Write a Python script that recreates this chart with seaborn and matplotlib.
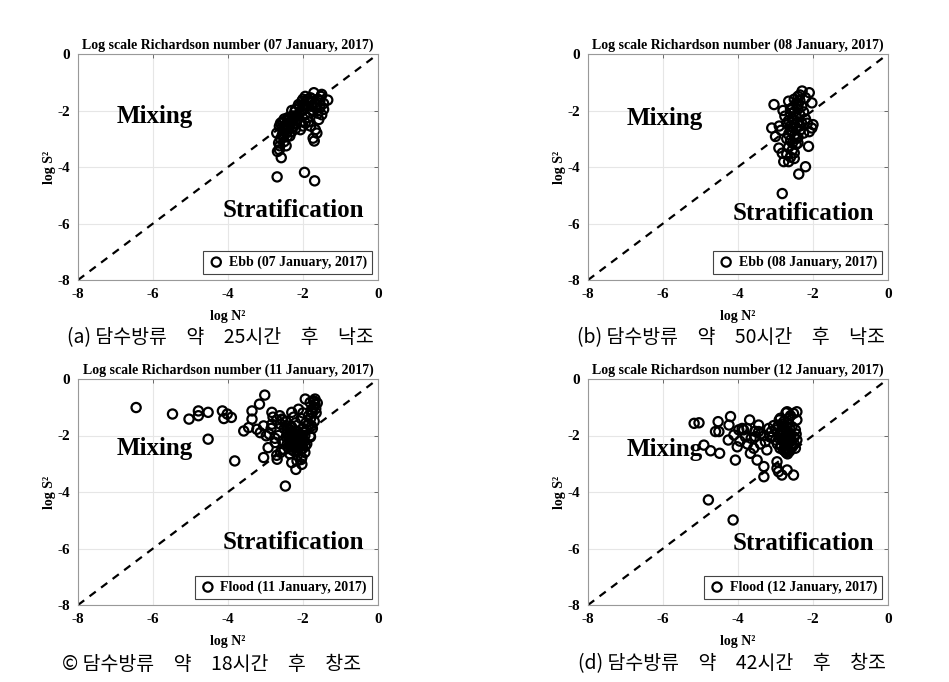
import numpy as np
import pandas as pd
import seaborn as sns
import matplotlib.pyplot as plt

# ---------------- data (log N^2, log S^2) ----------------
a_n2 = [-1.71, -1.94, -1.50, -1.34, -2.03, -1.80, -1.60, -1.45, -1.55, -1.45, -1.70, -1.85,
        -2.12, -2.20, -1.90, -1.75, -1.60, -1.58, -1.50, -2.00, -2.10, -1.95, -1.81, -2.25,
        -2.29, -2.35, -2.15, -1.94, -2.05, -2.36, -2.45, -2.25, -2.16, -2.40, -2.50, -2.63,
        -2.51, -2.42, -2.55, -2.60, -2.65, -2.63, -2.58, -2.50, -2.45, -2.07, -2.00, -1.67,
        -1.73, -1.70, -1.63, -1.80, -1.85, -2.30, -2.20, -2.35, -2.70, -2.55, -2.40, -2.30,
        -2.10, -1.65, -1.55, -1.75, -2.00, -1.88, -2.50, -2.60, -2.45, -2.62, -2.68,
        -2.05, -1.98, -2.22, -2.32, -2.18, -2.42, -2.48, -2.38, -2.28, -2.12, -1.88, -1.78,
        -1.62, -1.52, -2.56, -2.52, -2.34, -2.26,
        -2.69, -1.96, -1.69]
a_s2 = [-1.37, -1.50, -1.43, -1.63, -1.67, -1.55, -1.60, -1.75, -1.90, -1.96, -1.75, -1.70,
        -1.79, -1.96, -1.85, -2.00, -2.10, -2.32, -2.15, -1.95, -2.10, -2.15, -2.08, -2.20,
        -2.20, -2.30, -2.30, -2.44, -2.40, -2.44, -2.50, -2.56, -2.32, -2.60, -2.70, -2.56,
        -2.68, -2.92, -2.85, -3.00, -3.15, -3.39, -3.67, -3.10, -3.25, -2.68, -2.55, -2.68,
        -2.98, -3.08, -2.80, -2.55, -2.40, -2.75, -2.65, -2.90, -2.80, -2.40, -2.25, -2.00,
        -1.85, -1.90, -1.65, -1.60, -1.60, -1.60, -2.30, -2.45, -2.80, -3.25, -3.45,
        -2.00, -1.80, -2.05, -2.40, -2.45, -2.35, -2.55, -2.65, -2.60, -2.20, -2.25, -1.85,
        -1.80, -1.50, -2.60, -2.95, -2.50, -2.35,
        -4.35, -4.19, -4.49]

b_n2 = [-2.29, -2.10, -2.40, -2.20, -2.03, -2.35, -2.45, -2.65, -3.04, -2.55, -2.40, -2.30,
        -2.50, -2.60, -2.45, -2.35, -2.25, -2.55, -2.65, -2.40, -2.30, -2.20, -2.50, -2.60,
        -2.70, -2.45, -2.35, -2.55, -2.65, -2.50, -2.40, -2.60, -2.70, -2.55, -2.45, -2.65,
        -2.55, -2.70, -2.60, -2.50, -2.78, -2.65, -2.82, -2.91, -3.00, -3.10, -2.85, -2.90,
        -2.40, -2.12, -2.20, -2.38, -2.82, -2.03, -2.10, -2.15, -2.00, -2.25, -2.75, -2.80,
        -2.35, -2.50, -2.60, -2.50, -2.45, -2.35, -2.60, -2.40, -2.55]
b_s2 = [-1.31, -1.37, -1.50, -1.55, -1.73, -1.65, -1.75, -1.67, -1.79, -1.90, -1.95, -1.85,
        -2.05, -2.10, -2.20, -2.15, -2.05, -2.30, -2.35, -2.40, -2.45, -2.30, -2.50, -2.55,
        -2.45, -2.60, -2.70, -2.75, -2.85, -2.90, -2.95, -3.05, -3.00, -3.15, -3.20, -3.30,
        -3.40, -3.55, -3.65, -3.70, -3.81, -3.81, -3.51, -3.33, -2.92, -2.62, -2.70, -2.55,
        -3.15, -3.27, -3.99, -4.25, -4.94, -2.62, -2.75, -2.45, -2.50, -2.80, -2.20, -2.00,
        -1.45, -1.60, -2.70, -3.50, -3.00, -2.55, -1.95, -1.80, -2.60]

c_n2 = [-6.45, -5.48, -5.04, -4.79, -4.79, -4.53, -4.53, -4.15, -4.02, -4.11, -3.91, -3.82,
        -3.58, -3.45, -3.36, -3.36, -3.23, -3.14, -3.16, -3.02, -3.05, -2.98, -2.93, -3.05,
        -2.83, -2.83, -2.74, -2.69, -2.56, -2.56, -2.43, -2.30, -2.47, -2.16, -2.03, -2.03,
        -2.19, -2.12, -1.94, -2.30, -2.12, -1.94, -1.81, -1.72, -1.68, -1.77, -1.77, -1.81,
        -2.40, -2.30, -2.20, -2.10, -2.00, -2.35, -2.25, -2.15, -2.05, -2.45, -2.50, -2.60,
        -2.70, -2.80, -2.55, -2.40, -2.30, -2.15, -2.00, -1.95, -1.90, -1.85, -1.80, -1.75,
        -1.72, -1.68, -1.78, -1.85, -1.92, -2.00, -2.10, -2.20, -2.30, -2.20, -2.05, -2.00,
        -1.65, -1.70, -1.75, -1.80, -1.90, -1.95, -2.05, -2.60, -2.70, -2.50, -2.90, -2.65,
        -2.75, -2.85, -2.25, -2.45, -2.62, -2.55, -1.62, -1.70, -1.66, -2.15, -2.35,
        -2.35, -2.28, -2.18, -2.08, -1.98, -2.42, -2.32, -2.22, -2.12, -2.02, -2.38, -2.26,
        -2.16, -2.06, -1.96, -2.44, -2.34, -2.24, -2.14, -2.04]
c_s2 = [-1.01, -1.24, -1.42, -1.13, -1.30, -1.18, -2.13, -1.13, -1.24, -1.40, -1.36, -2.90,
        -1.84, -1.72, -1.13, -1.42, -1.78, -1.90, -0.89, -0.57, -1.66, -2.01, -2.43, -2.78,
        -1.60, -1.18, -2.25, -2.84, -1.42, -2.49, -1.78, -2.96, -3.79, -2.90, -2.78, -3.02,
        -3.20, -2.31, -2.37, -1.18, -1.07, -0.71, -0.83, -0.77, -0.71, -1.18, -1.66, -2.01,
        -1.90, -2.00, -2.10, -2.20, -2.15, -2.20, -2.30, -2.35, -2.30, -2.05, -1.75, -1.60,
        -1.45, -1.35, -2.20, -2.40, -2.50, -2.55, -2.45, -2.00, -1.80, -1.60, -1.40, -1.20,
        -1.00, -0.90, -1.10, -1.30, -1.55, -1.75, -1.95, -1.85, -1.70, -1.55, -1.40, -1.20,
        -1.20, -1.50, -1.75, -2.05, -2.30, -2.60, -2.85, -2.60, -2.70, -2.50, -1.95, -2.00,
        -2.10, -1.75, -1.35, -1.50, -1.30, -1.45, -0.85, -0.80, -1.05, -2.70, -2.65,
        -1.80, -1.90, -1.95, -2.05, -1.90, -2.30, -2.40, -2.45, -2.40, -2.35, -2.10, -2.15,
        -2.25, -2.50, -2.20, -1.65, -1.70, -2.55, -1.85, -2.00]

d_n2 = [-5.17, -5.04, -4.91, -4.73, -4.49, -4.53, -4.60, -4.51, -4.79, -4.13, -4.20, -4.24,
        -4.26, -4.11, -4.07, -4.02, -3.98, -3.89, -3.76, -3.69, -3.67, -3.58, -3.54, -3.45,
        -3.45, -3.49, -3.31, -3.31, -3.27, -3.23, -3.18, -3.11, -3.00, -2.96, -2.96, -2.92,
        -2.83, -2.69, -2.52, -2.92, -2.87, -2.78, -2.69, -2.52, -2.43, -2.43, -2.56, -2.47,
        -2.43, -2.47, -2.56, -2.83, -2.74, -2.74, -2.65, -2.79, -2.61, -2.65, -3.00, -3.09,
        -2.80, -2.75, -2.70, -2.75, -2.80, -2.70, -2.85, -2.65, -2.60, -2.72, -2.85, -2.90,
        -2.60, -2.55, -2.78, -2.68, -2.50, -2.45, -2.90, -3.05, -3.15, -3.30, -3.40, -3.55,
        -3.65, -3.80, -3.95, -3.85, -3.75, -3.40, -2.95, -2.62, -2.50,
        -2.78, -2.72, -2.66, -2.82, -2.76, -2.70, -2.64, -2.80, -2.74, -2.68, -2.86, -2.62,
        -2.58, -2.88, -2.72]
d_s2 = [-1.57, -1.55, -2.34, -2.54, -2.63, -1.51, -1.86, -1.86, -4.28, -4.99, -1.33, -1.63,
        -2.16, -1.98, -2.87, -2.40, -1.80, -1.75, -1.75, -1.45, -2.63, -2.45, -2.04, -1.63,
        -1.86, -2.87, -3.10, -3.46, -2.22, -2.51, -1.75, -1.86, -2.16, -2.93, -3.16, -3.28,
        -3.40, -3.22, -3.40, -1.63, -1.39, -1.51, -1.16, -1.22, -1.16, -1.45, -1.69, -1.80,
        -2.16, -2.45, -2.28, -1.92, -2.10, -2.45, -2.57, -2.51, -1.92, -2.16, -1.80, -2.04,
        -1.60, -1.75, -1.90, -2.05, -2.20, -2.30, -2.35, -1.40, -1.30, -1.20, -1.85, -2.10,
        -2.05, -2.40, -2.50, -2.65, -2.05, -1.95, -1.45, -1.65, -2.05, -2.00, -1.95, -1.85,
        -2.10, -2.05, -2.20, -1.80, -2.30, -2.30, -2.30, -2.55, -2.30,
        -1.70, -1.85, -2.00, -2.15, -2.25, -2.45, -2.20, -1.95, -2.35, -1.55, -2.00, -1.75,
        -2.20, -2.45, -2.60]

dates = ["07 January, 2017", "08 January, 2017", "11 January, 2017", "12 January, 2017"]
tides = ["Ebb", "Ebb", "Flood", "Flood"]
captions = ["(a) 담수방류\u3000약\u300025시간\u3000후\u3000낙조",
            "(b) 담수방류\u3000약\u300050시간\u3000후\u3000낙조",
            "© 담수방류\u3000약\u300018시간\u3000후\u3000창조",
            "(d) 담수방류\u3000약\u300042시간\u3000후\u3000창조"]
ticks = [-8, -6, -4, -2, 0]

# ---------------- style ----------------
sns.set_theme(style="white")
plt.rcParams['font.family'] = ['Liberation Serif', 'DejaVu Serif']
plt.rcParams['font.weight'] = 'bold'
plt.rcParams['text.color'] = 'black'
plt.rcParams['axes.labelcolor'] = 'black'
plt.rcParams['xtick.color'] = 'black'
plt.rcParams['ytick.color'] = 'black'
plt.rcParams['axes.titlecolor'] = 'black'

fig = plt.figure(figsize=(9.49, 6.82), dpi=100)
W, H = 949.0, 682.0

panels = [
    (a_n2, a_s2, 78, 54, 280, -2.2, -5.55, 220, 338),
    (b_n2, b_s2, 588, 54, 280, -2.3, -5.65, 731, 338),
    (c_n2, c_s2, 78, 379, 605, -2.45, -5.78, 212, 664),
    (d_n2, d_s2, 588, 379, 605, -2.5, -5.82, 732, 664),
]

for i, (xs, ys, left, top, bottom, mix_y, str_y, cap_x, cap_y) in enumerate(panels):
    ax = fig.add_axes([left / W, 1 - bottom / H, 300 / W, (bottom - top) / H])
    df = pd.DataFrame({"logN2": xs, "logS2": ys})
    ax.plot([-8, 0], [-8, 0], ls=(0, (3.5, 3.0)), color='black', lw=1.6, zorder=1)
    sns.scatterplot(data=df, x="logN2", y="logS2", ax=ax, marker='o', s=44,
                    facecolors='none', edgecolor='black', linewidth=1.6,
                    label=f"{tides[i]} ({dates[i]})", zorder=3)
    ax.set_xlim(-8, 0)
    ax.set_ylim(-8, 0)
    ax.set_xticks(ticks)
    ax.set_yticks(ticks)
    ax.set_xticklabels([str(t) for t in ticks], fontsize=11, fontweight='bold')
    ax.set_yticklabels([str(t) for t in ticks], fontsize=11, fontweight='bold')
    ax.tick_params(direction='in', length=3, width=0.6, color='#555555',
                   top=True, right=True, pad=6)
    ax.grid(True, color='#e6e6e6', lw=0.8)
    for sp in ax.spines.values():
        sp.set_color('#999999')
        sp.set_linewidth(0.8)
    ax.set_title(f"Log scale Richardson number ({dates[i]})", fontsize=10,
                 fontweight='bold', pad=4)
    ax.set_xlabel("log N²", fontsize=10, fontweight='bold', labelpad=6)
    ax.set_ylabel("log S²", fontsize=10, fontweight='bold', labelpad=1)
    ax.text(-6.98, mix_y, "Mixing", fontsize=18, fontweight='bold', va='center',
            ha='left', zorder=2, color='black')
    ax.text(-4.15, str_y, "Stratification", fontsize=18, fontweight='bold',
            va='center', ha='left', zorder=2, color='black')
    leg = ax.legend(loc='lower right', fancybox=False, framealpha=1,
                    edgecolor='#444444', borderpad=0.35, handletextpad=0.3,
                    handlelength=1.2, borderaxespad=0.45,
                    prop={'family': 'Liberation Serif', 'weight': 'bold', 'size': 10})
    leg.get_frame().set_linewidth(0.8)
    fig.text(cap_x / W, 1 - cap_y / H, captions[i], ha='center', va='center',
             fontsize=14, fontweight='normal', color='black',
             family=['Noto Sans CJK KR', 'DejaVu Sans'])

fig.savefig("out.png", dpi=100)
